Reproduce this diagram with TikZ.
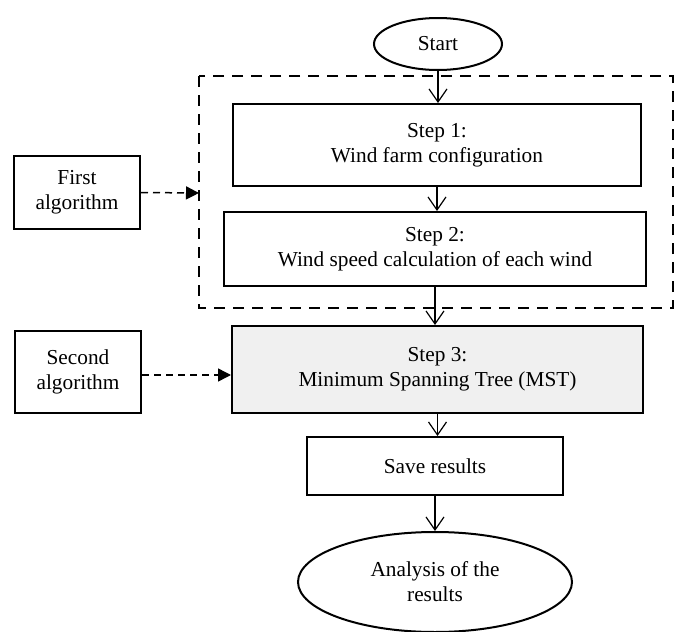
\documentclass[tikz,border=0pt]{standalone}
\usepackage{fontspec}
\setmainfont{Liberation Serif}
\usetikzlibrary{arrows.meta,shapes.geometric}
\tikzset{
  box/.style={draw, line width=2pt, rectangle, align=center, inner sep=2pt},
  oval/.style={draw, line width=2pt, ellipse, align=center, inner sep=0pt},
  flow/.style={line width=1.2pt, -{Straight Barb[length=13pt,width=18pt,line width=1.2pt]}},
  feed/.style={line width=1.5pt, dash pattern=on 7pt off 5pt, -{Triangle[length=13pt,width=13pt]}},
  group/.style={draw, line width=2.2pt, dash pattern=on 11pt off 8pt},
}
\begin{document}
\begin{tikzpicture}[x=1pt, y=-1pt, font=\fontsize{21.3}{25}\selectfont]
  \useasboundingbox (0,0) rectangle (681,632);

  % start / end ovals
  \node[oval, minimum width=128pt, minimum height=52pt] (start) at (438,44) {Start};
  \node[oval, minimum width=274pt, minimum height=100pt] (end) at (435,582) {Analysis of the\\results};

  % dashed frame around the first algorithm
  \draw[group] (199,76) rectangle (673,308);
  \coordinate (grpW) at (199,193);

  % process steps
  \node[box, minimum width=408pt, minimum height=82pt] (s1) at (437,145) {Step 1:\\Wind farm configuration};
  \node[box, minimum width=422pt, minimum height=74pt] (s2) at (435,249) {Step 2:\\Wind speed calculation of each wind};
  \node[box, fill=black!6, minimum width=411pt, minimum height=87pt] (s3) at (437.5,369.5) {Step 3:\\Minimum Spanning Tree (MST)};
  \node[box, minimum width=256pt, minimum height=58pt] (save) at (435,466) {Save results};

  % algorithm labels
  \node[box, minimum width=126pt, minimum height=73pt] (alg1) at (77,192.5) {First\\algorithm};
  \node[box, minimum width=126pt, minimum height=82pt] (alg2) at (78,372) {Second\\algorithm};

  % main flow
  \draw[flow] (start.south) -- (start.south |- s1.north);
  \draw[flow] (s1.south) -- (s1.south |- s2.north);
  \draw[flow] (s2.south) -- (s2.south |- s3.north);
  \draw[flow] (s3.south) -- (s3.south |- save.north);
  \draw[flow] (save.south) -- (end.north);

  % algorithm links
  \draw[feed] (alg1.east) -- (grpW);
  \draw[feed] (alg2.east |- 0,375) -- (s3.west |- 0,375);
\end{tikzpicture}
\end{document}
